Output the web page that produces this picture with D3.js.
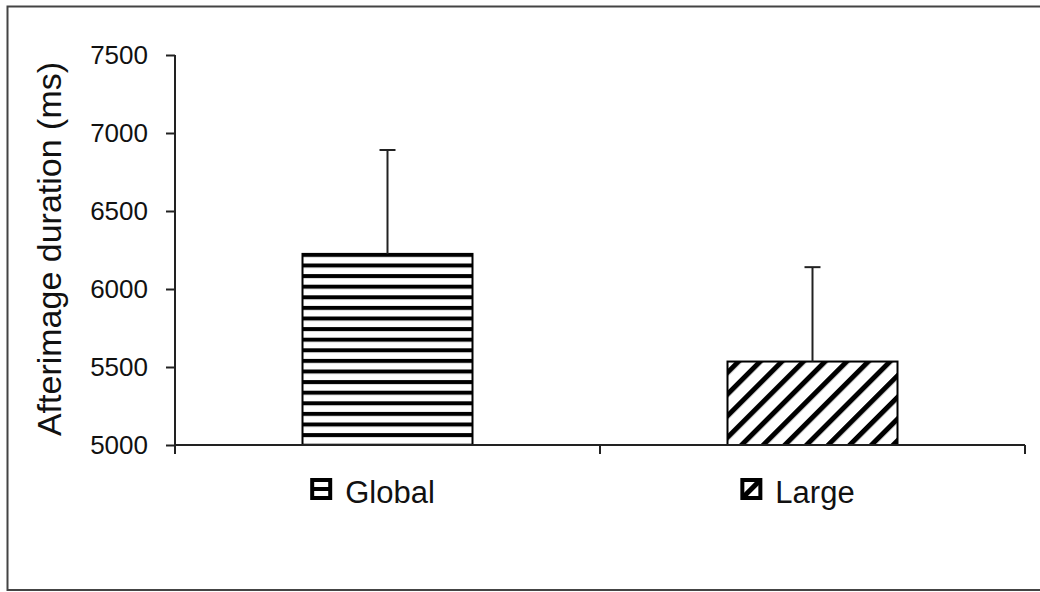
<!DOCTYPE html>
<html>
<head>
<meta charset="utf-8">
<script src="https://cdn.jsdelivr.net/npm/d3@7"></script>
<style>
  html, body { margin: 0; padding: 0; background: #fff; }
  svg { display: block; }
  text { font-family: "Liberation Sans", Arial, sans-serif; fill: #111; }
</style>
</head>
<body>
<script>
// ---- data ----
const categories = ["Global", "Large"];
const means = [6225, 5535];
const errors = [666, 605];
const yTicks = [5000, 5500, 6000, 6500, 7000, 7500];
const yTitle = "Afterimage duration (ms)";

const W = 1040, H = 592;
const svg = d3.select("body").append("svg").attr("width", W).attr("height", H);

// outer frame
svg.append("rect")
  .attr("x", 7.5).attr("y", 6.5).attr("width", 1045).attr("height", 583.5)
  .attr("fill", "#fff").attr("stroke", "#444").attr("stroke-width", 2);

const plot = { left: 175, right: 1025, top: 55, bottom: 445 };

const x = d3.scaleBand().domain(categories)
  .range([plot.left, plot.right]).paddingInner(0.6).paddingOuter(0.3);
const xOuter = d3.scaleBand().domain(categories).range([plot.left, plot.right]);
const y = d3.scaleLinear().domain([5000, 7500]).range([plot.bottom, plot.top]);

// patterns
const defs = svg.append("defs");
means.forEach((m, i) => {
  if (i === 0) {
    const p = defs.append("pattern").attr("id", "hstripe")
      .attr("patternUnits", "userSpaceOnUse")
      .attr("x", 0).attr("y", y(m) - 1)
      .attr("width", 20).attr("height", 10.6);
    p.append("rect").attr("width", 20).attr("height", 10.6).attr("fill", "#fff");
    p.append("rect").attr("y", 0).attr("width", 20).attr("height", 4).attr("fill", "#000");
  } else {
    const p = defs.append("pattern").attr("id", "dstripe")
      .attr("patternUnits", "userSpaceOnUse")
      .attr("x", x(categories[i]) + 2).attr("y", 0)
      .attr("width", 15.3).attr("height", 40)
      .attr("patternTransform", "rotate(45)");
    p.append("rect").attr("width", 15.3).attr("height", 40).attr("fill", "#fff");
    p.append("rect").attr("x", 0).attr("width", 5).attr("height", 40).attr("fill", "#000");
  }
});
const fills = ["url(#hstripe)", "url(#dstripe)"];

// bars
svg.append("g").selectAll("rect").data(categories).join("rect")
  .attr("x", d => x(d))
  .attr("y", (d, i) => y(means[i]))
  .attr("width", x.bandwidth())
  .attr("height", (d, i) => y(5000) - y(means[i]))
  .attr("fill", (d, i) => fills[i])
  .attr("stroke", "#000").attr("stroke-width", 2);

// error bars (upper only)
const eb = svg.append("g").attr("stroke", "#222").attr("stroke-width", 2);
categories.forEach((c, i) => {
  const cx = x(c) + x.bandwidth() / 2;
  eb.append("line").attr("x1", cx).attr("x2", cx)
    .attr("y1", y(means[i])).attr("y2", y(means[i] + errors[i]));
  eb.append("line").attr("x1", cx - 8).attr("x2", cx + 8)
    .attr("y1", y(means[i] + errors[i])).attr("y2", y(means[i] + errors[i]));
});

// y axis
const yAxis = svg.append("g").attr("transform", `translate(${plot.left},0)`)
  .call(d3.axisLeft(y).tickValues(yTicks).tickSize(9).tickPadding(18).tickFormat(d3.format("d")));
yAxis.select(".domain").attr("stroke", "#222").attr("stroke-width", 2)
  .attr("d", `M-0,${plot.top}H0V${plot.bottom + 8}`);
yAxis.selectAll(".tick line").attr("stroke", "#222").attr("stroke-width", 2);
yAxis.selectAll(".tick text").attr("font-size", 26).attr("fill", "#111")
  .attr("font-family", "Liberation Sans, Arial, sans-serif");

// x axis line with boundary ticks
const xa = svg.append("g").attr("stroke", "#222").attr("stroke-width", 2);
xa.append("line").attr("x1", plot.left).attr("x2", plot.right)
  .attr("y1", plot.bottom).attr("y2", plot.bottom);
const bounds = categories.map(c => xOuter(c)).concat([xOuter(categories[categories.length - 1]) + xOuter.bandwidth()]);
bounds.forEach(b => {
  xa.append("line").attr("x1", b).attr("x2", b)
    .attr("y1", plot.bottom).attr("y2", plot.bottom + 9);
});

// y title
svg.append("text")
  .attr("transform", `translate(61,249) rotate(-90)`)
  .attr("text-anchor", "middle")
  .attr("font-size", 34)
  .text(yTitle);

// legend-like category labels
categories.forEach((c, i) => {
  const g = svg.append("g");
  const t = g.append("text").attr("font-size", 31).attr("y", 503).text(c);
  const tw = t.node().getComputedTextLength();
  const groupW = 22 + 13 + tw;
  const cx = xOuter(c) + xOuter.bandwidth() / 2 - 15;
  const left = cx - groupW / 2;
  t.attr("x", left + 35);
  const ix = left, iy = 478, s = 22;
  g.append("rect").attr("x", ix + 2).attr("y", iy + 2).attr("width", s - 4).attr("height", s - 4)
    .attr("fill", "#fff").attr("stroke", "#000").attr("stroke-width", 4);
  if (i === 0) {
    g.append("line").attr("x1", ix + 2).attr("x2", ix + s - 2)
      .attr("y1", iy + s / 2).attr("y2", iy + s / 2).attr("stroke", "#000").attr("stroke-width", 4);
  } else {
    g.append("line").attr("x1", ix + 3).attr("x2", ix + s - 3)
      .attr("y1", iy + s - 3).attr("y2", iy + 3).attr("stroke", "#000").attr("stroke-width", 5);
  }
});
</script>
</body>
</html>
